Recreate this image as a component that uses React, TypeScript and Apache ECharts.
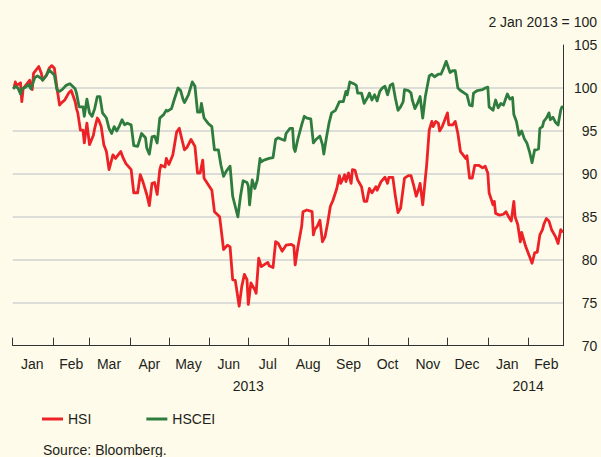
import React, { useEffect, useRef } from "react";
import * as echarts from "echarts";

const monthNames = ["Jan", "Feb", "Mar", "Apr", "May", "Jun", "Jul", "Aug", "Sep", "Oct", "Nov", "Dec"];
const monthTickDates = [
  "2013-01-01", "2013-02-01", "2013-03-01", "2013-04-01", "2013-05-01", "2013-06-01", "2013-07-01",
  "2013-08-01", "2013-09-01", "2013-10-01", "2013-11-01", "2013-12-01", "2014-01-01", "2014-02-01",
];
const monthLabelDates = [
  "2013-01-16", "2013-02-15", "2013-03-16", "2013-04-16", "2013-05-16", "2013-06-16", "2013-07-16",
  "2013-08-16", "2013-09-16", "2013-10-16", "2013-11-16", "2013-12-16", "2014-01-16", "2014-02-15",
];
const yearLabelDates = ["2013-07-01", "2014-02-01"];
const xStart = "2013-01-01";
const xEnd = "2014-02-28";
const yMin = 70;
const yMax = 105;
const yStep = 5;

const hsiDates = [
  "2013-01-02","2013-01-03","2013-01-04","2013-01-07","2013-01-08","2013-01-09","2013-01-11","2013-01-14","2013-01-15","2013-01-16",
  "2013-01-17","2013-01-21","2013-01-23","2013-01-24","2013-01-27","2013-01-29","2013-01-31","2013-02-02","2013-02-04","2013-02-06",
  "2013-02-07","2013-02-10","2013-02-13","2013-02-15","2013-02-18","2013-02-19","2013-02-20","2013-02-22","2013-02-24","2013-02-25",
  "2013-02-27","2013-03-01","2013-03-04","2013-03-05","2013-03-07","2013-03-08","2013-03-10","2013-03-12","2013-03-14","2013-03-16",
  "2013-03-19","2013-03-21","2013-03-23","2013-03-25","2013-03-27","2013-03-29","2013-04-02","2013-04-04","2013-04-07","2013-04-09",
  "2013-04-11","2013-04-14","2013-04-16","2013-04-18","2013-04-20","2013-04-22","2013-04-24","2013-04-25","2013-04-28","2013-04-29",
  "2013-05-01","2013-05-04","2013-05-06","2013-05-07","2013-05-09","2013-05-11","2013-05-13","2013-05-15","2013-05-18","2013-05-21",
  "2013-05-23","2013-05-25","2013-05-27","2013-05-28","2013-05-31","2013-06-03","2013-06-05","2013-06-09","2013-06-12","2013-06-15",
  "2013-06-17","2013-06-19","2013-06-21","2013-06-24","2013-06-26","2013-06-28","2013-06-30","2013-07-01","2013-07-03","2013-07-06",
  "2013-07-07","2013-07-09","2013-07-11","2013-07-13","2013-07-16","2013-07-17","2013-07-20","2013-07-22","2013-07-24","2013-07-27",
  "2013-07-30","2013-08-03","2013-08-05","2013-08-06","2013-08-08","2013-08-11","2013-08-12","2013-08-15","2013-08-19","2013-08-20",
  "2013-08-21","2013-08-23","2013-08-25","2013-08-27","2013-08-29","2013-08-31","2013-09-02","2013-09-04","2013-09-07","2013-09-09",
  "2013-09-10","2013-09-12","2013-09-13","2013-09-14","2013-09-16","2013-09-18","2013-09-19","2013-09-21","2013-09-23","2013-09-26",
  "2013-09-28","2013-09-30","2013-10-02","2013-10-04","2013-10-07","2013-10-08","2013-10-11","2013-10-14","2013-10-16","2013-10-17",
  "2013-10-20","2013-10-22","2013-10-24","2013-10-26","2013-10-29","2013-11-01","2013-11-03","2013-11-05","2013-11-07","2013-11-09",
  "2013-11-10","2013-11-12","2013-11-15","2013-11-17","2013-11-19","2013-11-20","2013-11-22","2013-11-24","2013-11-25","2013-11-27",
  "2013-11-29","2013-12-01","2013-12-02","2013-12-05","2013-12-07","2013-12-09","2013-12-11","2013-12-13","2013-12-15","2013-12-16",
  "2013-12-18","2013-12-20","2013-12-22","2013-12-25","2013-12-28","2013-12-30","2014-01-01","2014-01-02","2014-01-05","2014-01-06",
  "2014-01-07","2014-01-10","2014-01-13","2014-01-15","2014-01-17","2014-01-19","2014-01-21","2014-01-22","2014-01-24","2014-01-26",
  "2014-01-27","2014-01-30","2014-02-02","2014-02-04","2014-02-06","2014-02-08","2014-02-10","2014-02-12","2014-02-13","2014-02-15",
  "2014-02-17","2014-02-19","2014-02-22","2014-02-24","2014-02-26","2014-02-27",
];
const hsiValues = [
  100.0,100.7,100.3,100.6,98.4,99.9,100.3,100.9,100.3,99.8,
  101.7,102.5,101.7,100.9,101.5,102.3,102.6,102.3,100.0,98.0,
  98.2,98.6,99.4,99.7,98.4,97.6,97.1,95.1,95.1,93.6,
  95.9,93.4,94.5,95.3,96.5,96.3,95.5,93.4,92.6,90.5,
  92.2,91.8,92.2,92.6,91.8,91.2,90.5,87.8,87.8,89.9,
  89.1,87.6,86.3,88.9,89.0,87.6,90.5,91.0,90.8,91.8,
  91.1,92.2,94.0,94.9,95.3,94.0,92.8,93.1,94.0,93.2,
  90.1,90.1,91.6,89.5,88.8,88.1,85.6,85.0,81.2,81.7,
  81.5,77.7,77.6,74.6,76.9,78.3,77.7,74.8,77.3,76.5,
  76.1,80.2,79.2,79.4,79.7,79.3,79.1,82.1,81.9,81.0,
  81.7,81.8,81.6,79.4,81.4,83.9,85.6,85.8,85.6,82.9,
  83.5,83.9,84.6,82.1,82.7,84.3,86.2,86.9,88.3,89.8,
  88.9,89.5,89.9,89.1,90.1,88.9,90.5,90.4,89.3,88.5,
  86.8,86.8,88.3,87.8,88.5,88.1,89.1,89.6,88.9,89.6,
  89.6,87.4,85.5,86.0,89.5,89.8,89.8,88.7,87.4,88.3,
  88.9,86.4,91.0,95.1,96.1,95.5,96.1,95.9,95.0,95.5,
  96.3,97.1,95.7,95.7,96.1,94.7,92.6,92.2,91.8,92.1,
  89.5,89.5,91.0,91.0,90.7,90.9,90.1,87.8,86.4,86.8,
  85.4,85.2,85.3,85.6,85.0,84.5,86.8,85.0,84.1,82.1,
  83.2,81.6,80.4,79.6,80.8,80.9,82.9,83.5,84.1,84.8,
  84.5,83.5,82.7,81.9,83.5,83.3,
];

const hsceiDates = [
  "2013-01-02","2013-01-03","2013-01-05","2013-01-07","2013-01-08","2013-01-11","2013-01-13","2013-01-15","2013-01-18","2013-01-20",
  "2013-01-23","2013-01-24","2013-01-27","2013-01-29","2013-01-31","2013-02-02","2013-02-04","2013-02-06","2013-02-08","2013-02-11",
  "2013-02-14","2013-02-16","2013-02-18","2013-02-19","2013-02-21","2013-02-24","2013-02-25","2013-02-27","2013-03-01","2013-03-03",
  "2013-03-05","2013-03-07","2013-03-09","2013-03-11","2013-03-14","2013-03-16","2013-03-18","2013-03-20","2013-03-22","2013-03-24",
  "2013-03-26","2013-03-28","2013-03-30","2013-04-02","2013-04-04","2013-04-07","2013-04-10","2013-04-13","2013-04-14","2013-04-16",
  "2013-04-18","2013-04-20","2013-04-22","2013-04-24","2013-04-27","2013-04-29","2013-04-30","2013-05-03","2013-05-05","2013-05-08",
  "2013-05-10","2013-05-12","2013-05-13","2013-05-16","2013-05-19","2013-05-21","2013-05-23","2013-05-25","2013-05-26","2013-05-28",
  "2013-05-31","2013-06-03","2013-06-05","2013-06-08","2013-06-10","2013-06-12","2013-06-14","2013-06-17","2013-06-19","2013-06-21",
  "2013-06-23","2013-06-25","2013-06-27","2013-06-30","2013-07-01","2013-07-02","2013-07-04","2013-07-06","2013-07-08","2013-07-10",
  "2013-07-11","2013-07-13","2013-07-17","2013-07-20","2013-07-22","2013-07-24","2013-07-27","2013-07-29","2013-07-30","2013-08-02",
  "2013-08-04","2013-08-05","2013-08-06","2013-08-08","2013-08-11","2013-08-13","2013-08-15","2013-08-18","2013-08-20","2013-08-22",
  "2013-08-25","2013-08-27","2013-08-28","2013-08-30","2013-09-01","2013-09-03","2013-09-06","2013-09-09","2013-09-10","2013-09-12",
  "2013-09-14","2013-09-15","2013-09-17","2013-09-20","2013-09-22","2013-09-23","2013-09-26","2013-09-28","2013-10-01","2013-10-02",
  "2013-10-04","2013-10-06","2013-10-08","2013-10-10","2013-10-12","2013-10-14","2013-10-16","2013-10-18","2013-10-20","2013-10-22",
  "2013-10-24","2013-10-26","2013-10-28","2013-10-29","2013-11-01","2013-11-03","2013-11-04","2013-11-06","2013-11-08","2013-11-10",
  "2013-11-12","2013-11-14","2013-11-17","2013-11-19","2013-11-21","2013-11-24","2013-11-26","2013-11-28","2013-11-30","2013-12-03",
  "2013-12-05","2013-12-07","2013-12-09","2013-12-11","2013-12-14","2013-12-16","2013-12-18","2013-12-20","2013-12-21","2013-12-24",
  "2013-12-28","2013-12-30","2014-01-01","2014-01-02","2014-01-05","2014-01-07","2014-01-09","2014-01-11","2014-01-13","2014-01-16",
  "2014-01-18","2014-01-20","2014-01-21","2014-01-23","2014-01-25","2014-01-27","2014-01-29","2014-01-31","2014-02-02","2014-02-04",
  "2014-02-06","2014-02-07","2014-02-09","2014-02-10","2014-02-12","2014-02-13","2014-02-15","2014-02-17","2014-02-18","2014-02-20",
  "2014-02-22","2014-02-24","2014-02-26","2014-02-27",
];
const hsceiValues = [
  100.0,100.2,100.0,99.3,99.9,100.1,100.4,99.9,101.2,101.4,
  101.1,100.9,101.5,102.1,101.8,101.5,99.8,99.6,99.8,100.3,
  100.5,100.2,99.9,99.4,97.8,97.8,96.7,98.7,97.1,96.7,
  97.6,99.0,99.0,97.1,96.5,95.3,94.7,95.5,95.0,95.6,
  96.3,95.7,95.9,95.7,93.3,93.2,94.7,94.2,93.0,92.3,
  94.3,94.4,93.6,96.5,96.9,97.4,97.3,97.6,98.6,100.0,
  99.7,98.6,98.3,99.2,100.7,100.2,97.2,97.2,98.2,96.5,
  95.9,95.5,92.8,92.8,91.0,89.7,90.3,90.9,87.4,86.2,
  85.0,87.4,89.2,89.0,88.6,86.4,89.3,88.3,89.3,91.8,
  91.4,91.6,91.8,91.9,94.0,94.2,94.0,93.9,94.7,95.3,
  95.3,93.0,92.6,94.0,95.7,96.7,96.5,96.4,93.6,94.0,
  94.4,93.4,92.3,94.2,95.9,97.1,97.4,98.4,98.4,98.4,
  99.6,99.2,100.7,100.5,100.3,99.4,99.4,98.2,99.0,99.4,
  98.6,99.2,98.5,99.6,100.0,100.2,99.2,100.3,100.5,98.8,
  97.4,97.8,98.4,99.8,99.7,99.4,98.6,97.6,98.2,99.0,
  96.5,99.0,101.4,101.6,101.3,101.6,101.6,102.3,103.1,101.8,
  102.0,102.0,100.0,99.7,99.4,99.2,98.0,97.9,99.4,99.7,
  99.8,100.0,100.1,97.8,97.4,98.6,97.7,98.2,98.0,99.3,
  98.7,98.9,96.9,96.1,94.5,95.0,94.1,93.6,92.6,91.3,
  92.8,92.8,92.9,95.3,95.5,96.1,96.5,97.1,96.3,96.6,
  96.0,95.7,97.4,97.8,
];

const ts = (s: string) => {
  const [y, m, d] = s.split("-").map(Number);
  return Date.UTC(y, m - 1, d);
};

const FONT = "'Liberation Sans', Arial, Helvetica, sans-serif";
const FS = 14;
const TEXT = "#231f20";
const BG = "#fefbea";
const RED = "#ec2227";
const GREEN = "#2f7d3e";

export default function App() {
  const ref = useRef<HTMLDivElement>(null);
  useEffect(() => {
    if (!ref.current) return;
    const chart = echarts.init(ref.current, undefined, { renderer: "svg" });
    const xMin = ts(xStart);
    const xMax = ts(xEnd);
    chart.setOption({
      animation: false,
      backgroundColor: BG,
      textStyle: { fontFamily: FONT },
      title: {
        text: "2 Jan 2013 = 100",
        right: 4,
        top: 15,
        padding: 0,
        textStyle: { fontSize: FS, fontWeight: "normal", color: TEXT, fontFamily: FONT },
      },
      legend: {
        left: 42,
        top: 412,
        padding: 0,
        itemWidth: 21,
        itemHeight: 3,
        itemGap: 55,
        icon: "rect",
        textStyle: { fontSize: FS, color: TEXT, fontFamily: FONT },
        data: ["HSI", "HSCEI"],
      },
      graphic: [
        {
          type: "text",
          left: 43,
          top: 443,
          style: { text: "Source: Bloomberg.", fontSize: FS, fill: TEXT, fontFamily: FONT },
        },
      ],
      grid: { left: 12.7, right: 37.7, top: 45, bottom: 111.3 },
      xAxis: [
        {
          type: "value",
          min: xMin,
          max: xMax,
          axisLine: { show: true, onZero: false, lineStyle: { color: "#333", width: 1 } },
          axisTick: {
            show: true,
            inside: true,
            length: 8,
            lineStyle: { color: "#333", width: 1 },
            customValues: monthTickDates.map(ts),
          },
          axisLabel: {
            show: true,
            margin: 11,
            fontSize: FS,
            color: TEXT,
            fontFamily: FONT,
            hideOverlap: false,
            customValues: monthLabelDates.map(ts),
            formatter: (v: number) => monthNames[new Date(v).getUTCMonth()],
          },
          splitLine: { show: false },
        },
        {
          type: "value",
          min: xMin,
          max: xMax,
          position: "bottom",
          axisLine: { show: false, onZero: false },
          axisTick: { show: false },
          axisLabel: {
            show: true,
            margin: 33,
            fontSize: FS,
            color: TEXT,
            fontFamily: FONT,
            hideOverlap: false,
            customValues: yearLabelDates.map(ts),
            formatter: (v: number) => String(new Date(v).getUTCFullYear()),
          },
          splitLine: { show: false },
        },
      ],
      yAxis: {
        type: "value",
        position: "right",
        min: yMin,
        max: yMax,
        interval: yStep,
        axisLine: { show: true, lineStyle: { color: "#333", width: 1 } },
        axisTick: { show: false },
        axisLabel: { align: "right", margin: 34, fontSize: FS, color: TEXT, fontFamily: FONT },
        splitLine: {
          show: true,
          showMinLine: false,
          showMaxLine: false,
          lineStyle: { color: "#dcdcd8", width: 2 },
        },
      },
      series: [
        {
          name: "HSI",
          type: "line",
          xAxisIndex: 0,
          showSymbol: false,
          color: RED,
          lineStyle: { color: RED, width: 2.8, join: "round", cap: "round" },
          data: hsiDates.map((d, i) => [ts(d), hsiValues[i]]),
        },
        {
          name: "HSCEI",
          type: "line",
          xAxisIndex: 0,
          showSymbol: false,
          color: GREEN,
          lineStyle: { color: GREEN, width: 2.8, join: "round", cap: "round" },
          data: hsceiDates.map((d, i) => [ts(d), hsceiValues[i]]),
        },
      ],
    });
    return () => chart.dispose();
  }, []);
  return (
    <div
      ref={ref}
      style={{ position: "fixed", left: 0, top: 0, width: 601, height: 457, background: BG }}
    />
  );
}
